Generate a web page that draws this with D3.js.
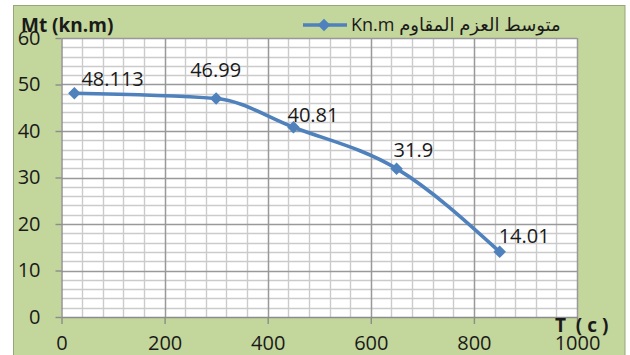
<!DOCTYPE html>
<html>
<head>
<meta charset="utf-8">
<script src="https://cdn.jsdelivr.net/npm/d3@7"></script>
<style>
  html, body { margin: 0; padding: 0; background: #ffffff; }
  svg { display: block; }
</style>
</head>
<body>
<svg id="chart" width="630" height="355"></svg>
<script>
// Temperature (°C) against mean resisting moment (kN.m)
const temperatures = [25, 300, 450, 650, 850];
const moments = [48.113, 46.99, 40.81, 31.9, 14.01];
const momentLabels = ["48.113", "46.99", "40.81", "31.9", "14.01"];
const xTicks = [0, 200, 400, 600, 800, 1000];
const yTicks = [0, 10, 20, 30, 40, 50, 60];
const seriesName = "Kn.m متوسط العزم المقاوم";
const yTitle = "Mt (kn.m)";
const xTitle = "T  ( c )";

// label placement relative to each marker
const labelDx = [7, -26, -6, -3, -1];
const labelDy = [-7, -21, -5, -12, -9];

const svg = d3.select("#chart");
const FONT = "'Open Sans', 'DejaVu Sans', sans-serif";
const GREEN = "#c3d69b";
const BLUE = "#4f81bd";

const plot = { left: 61.5, right: 577, top: 38, bottom: 317 };
const x = d3.scaleLinear().domain([0, 1000]).range([plot.left, plot.right]);
const y = d3.scaleLinear().domain([0, 60]).range([plot.bottom, plot.top]);

// chart area
svg.append("rect")
  .attr("x", 13.5).attr("y", 5.5)
  .attr("width", 611.5).attr("height", 360)
  .attr("fill", GREEN)
  .attr("stroke", "#98a77a").attr("stroke-width", 1);

// plot area
svg.append("rect")
  .attr("x", plot.left).attr("y", plot.top)
  .attr("width", plot.right - plot.left).attr("height", plot.bottom - plot.top)
  .attr("fill", "#ffffff");

// minor gridlines
const g = svg.append("g");
const xMinor = d3.range(40, 1000, 40).filter(v => v % 200 !== 0);
const yMinor = d3.range(2, 60, 2).filter(v => v % 10 !== 0);
g.selectAll(".vx").data(xMinor).join("line")
  .attr("x1", d => Math.round(x(d)) + 0.5).attr("x2", d => Math.round(x(d)) + 0.5)
  .attr("y1", plot.top).attr("y2", plot.bottom)
  .attr("stroke", "#cbcbcb").attr("stroke-width", 1.4);
g.selectAll(".hy").data(yMinor).join("line")
  .attr("y1", d => Math.round(y(d)) + 0.5).attr("y2", d => Math.round(y(d)) + 0.5)
  .attr("x1", plot.left).attr("x2", plot.right)
  .attr("stroke", "#cbcbcb").attr("stroke-width", 1.4);

// major gridlines
g.selectAll(".mx").data(xTicks.slice(1)).join("line")
  .attr("x1", d => Math.round(x(d)) + 0.5).attr("x2", d => Math.round(x(d)) + 0.5)
  .attr("y1", plot.top).attr("y2", plot.bottom)
  .attr("stroke", "#999999").attr("stroke-width", 1.5);
g.selectAll(".my").data(yTicks.slice(1)).join("line")
  .attr("y1", d => Math.round(y(d)) + 0.5).attr("y2", d => Math.round(y(d)) + 0.5)
  .attr("x1", plot.left).attr("x2", plot.right)
  .attr("stroke", "#999999").attr("stroke-width", 1.5);

// axes
const xAxis = svg.append("g")
  .attr("transform", `translate(0,${plot.bottom})`)
  .call(d3.axisBottom(x).tickValues(xTicks).tickFormat(d3.format("d")).tickSize(7).tickSizeOuter(0));
const yAxis = svg.append("g")
  .attr("transform", `translate(${plot.left},0)`)
  .call(d3.axisLeft(y).tickValues(yTicks).tickFormat(d3.format("d")).tickSize(6).tickSizeOuter(0).tickPadding(15));

[xAxis, yAxis].forEach(ax => {
  ax.select(".domain").attr("stroke", "#8c8c8c").attr("stroke-width", 1.4);
  ax.selectAll(".tick line").attr("stroke", "#8c8c8c").attr("stroke-width", 1.4);
  ax.selectAll("text")
    .attr("fill", "#1a1a1a")
    .style("font-family", FONT)
    .style("font-size", "20px");
});
xAxis.selectAll("text").attr("dy", null).attr("y", 33);

// smoothed series line
const line = d3.line()
  .x((d, i) => x(temperatures[i]))
  .y(d => y(d))
  .curve(d3.curveMonotoneX);

svg.append("path")
  .datum(moments)
  .attr("d", line)
  .attr("fill", "none")
  .attr("stroke", BLUE)
  .attr("stroke-width", 3.6)
  .attr("stroke-linejoin", "round");

// diamond markers
const diamond = d3.symbol().type(d3.symbolDiamond2).size(100);
svg.selectAll(".marker").data(moments).join("path")
  .attr("transform", (d, i) => `translate(${x(temperatures[i])},${y(d)})`)
  .attr("d", diamond)
  .attr("fill", BLUE);

// value labels
svg.selectAll(".vlabel").data(moments).join("text")
  .attr("x", (d, i) => x(temperatures[i]) + labelDx[i])
  .attr("y", (d, i) => y(d) + labelDy[i])
  .text((d, i) => momentLabels[i])
  .attr("fill", "#1a1a1a")
  .style("font-family", FONT)
  .style("font-size", "20px");

// titles
svg.append("text")
  .attr("x", 21).attr("y", 32)
  .text(yTitle)
  .attr("fill", "#1a1a1a")
  .style("font-family", FONT)
  .style("font-weight", "bold")
  .style("font-size", "19px");

svg.append("text")
  .attr("x", 555).attr("y", 332)
  .attr("xml:space", "preserve")
  .style("white-space", "pre")
  .text(xTitle)
  .attr("fill", "#1a1a1a")
  .style("font-family", FONT)
  .style("font-weight", "bold")
  .style("font-size", "19px");

// legend
const legend = svg.append("g");
legend.append("line")
  .attr("x1", 303).attr("x2", 347).attr("y1", 25).attr("y2", 25)
  .attr("stroke", BLUE).attr("stroke-width", 3.6);
legend.append("path")
  .attr("transform", "translate(324,25)")
  .attr("d", diamond)
  .attr("fill", BLUE);
legend.append("text")
  .attr("x", 351).attr("y", 31)
  .text(seriesName)
  .attr("fill", "#1a1a1a")
  .style("font-family", FONT)
  .style("font-size", "18px");
</script>
</body>
</html>
